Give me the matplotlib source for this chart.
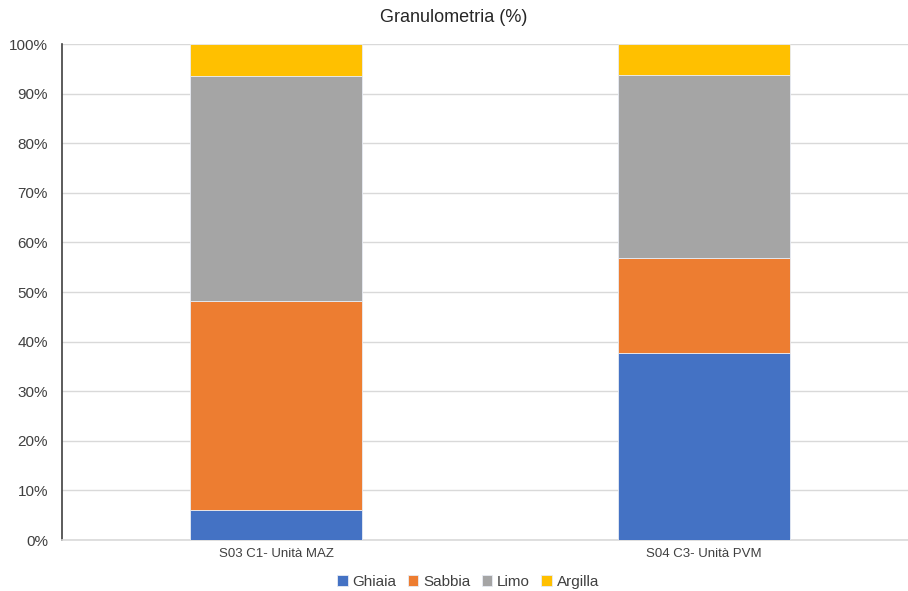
import matplotlib.pyplot as plt
import numpy as np
from matplotlib.ticker import PercentFormatter

plt.rcParams['font.family'] = ['Liberation Sans', 'DejaVu Sans']

campioni = ['S03 C1- Unità MAZ', 'S04 C3- Unità PVM']
classi = ['Ghiaia', 'Sabbia', 'Limo', 'Argilla']
ghiaia = [6.0, 37.8]
sabbia = [42.2, 19.0]
limo = [45.3, 36.9]
argilla = [6.5, 6.3]
colori = ['#4472C4', '#ED7D31', '#A5A5A5', '#FFC000']

fig = plt.figure(figsize=(9.08, 5.91), dpi=100)
ax = fig.add_axes([62/908, 51/591, 856/908, 496/591])

x = np.arange(len(campioni))
base = np.zeros(len(campioni))
for nome, valori, col in zip(classi, [ghiaia, sabbia, limo, argilla], colori):
    ax.bar(x, valori, 0.4, bottom=base, color=col, label=nome,
           edgecolor='#e8ecf4', linewidth=0.6, zorder=3)
    base += np.array(valori)

ax.set_xlim(-0.5, 1.5)
ax.set_ylim(0, 100)
ax.set_yticks(np.arange(0, 101, 10))
ax.yaxis.set_major_formatter(PercentFormatter(decimals=0))
ax.set_xticks(x)
ax.set_xticklabels(campioni, fontsize=9.5, color='#404040')
ax.tick_params(axis='y', labelsize=11, colors='#404040', length=0, pad=10)
ax.tick_params(axis='x', length=0, pad=6)
ax.grid(axis='y', color='#d9d9d9', linewidth=1, zorder=0)

for s in ['top', 'right']:
    ax.spines[s].set_visible(False)
ax.spines['left'].set_color('#404040')
ax.spines['left'].set_linewidth(1.2)
ax.spines['bottom'].set_color('#d9d9d9')
ax.spines['bottom'].set_linewidth(1.2)

fig.suptitle('Granulometria (%)', y=1 - 18/591, va='center', fontsize=13, color='#262626')

ax.legend(loc='center', bbox_to_anchor=(468/908, 9/591), bbox_transform=fig.transFigure,
          ncol=4, frameon=False, fontsize=11, handlelength=0.7, handleheight=0.7,
          handletextpad=0.3, columnspacing=0.75, labelcolor='#404040')

fig.savefig('out.png', dpi=100)
